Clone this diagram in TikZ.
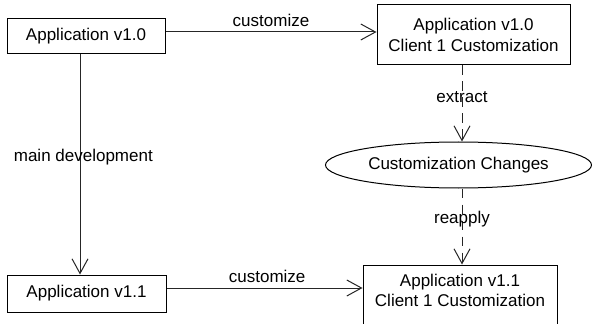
\documentclass[tikz,border=0pt]{standalone}
\usepackage{fontspec}
\setmainfont{Liberation Sans}
\usetikzlibrary{arrows.meta,shapes.geometric}
\begin{document}
\begin{tikzpicture}[x=0.75pt,y=-0.75pt,
  every node/.style={font=\fontsize{12.75}{15.5}\selectfont},
  box/.style={draw=black,line width=0.75pt,rectangle,inner sep=0pt,align=center},
  oval/.style={draw=black,line width=0.75pt,ellipse,inner sep=0pt},
  conn/.style={draw=black!85,line width=0.75pt,-{Straight Barb[length=11pt,width=12pt,line width=0.75pt]}},
  dconn/.style={conn,dash pattern=on 7pt off 5pt},
  lbl/.style={inner sep=0pt}]
\useasboundingbox (0,0) rectangle (592,324);
\coordinate (xl) at (80,0);
\coordinate (xd) at (462,0);
\coordinate (yt) at (0,32);
\coordinate (yb) at (0,288);
\node[box,minimum width=118.5pt,minimum height=26.25pt] (a10) at (86,36.5) {Application v1.0};
\node[box,minimum width=144.75pt,minimum height=45pt] (b10) at (473.5,35) {Application v1.0\\Client 1 Customization};
\node[oval,minimum width=199.5pt,minimum height=34.5pt] (chg) at (458.5,165) {Customization Changes};
\node[box,minimum width=119.25pt,minimum height=27.75pt] (c11) at (86.5,293.5) {Application v1.1};
\node[box,minimum width=145.5pt,minimum height=52.5pt] (d11) at (460,300) {};
\node[lbl,align=center] (d11t) at (460,290.5) {Application v1.1\\Client 1 Customization};
\draw[conn] (a10.east |- yt) -- node[midway,above,inner sep=3.8pt] (l1) {customize} (b10.west |- yt);
\draw[conn] (c11.east |- yb) -- node[midway,above,inner sep=3.8pt,xshift=2pt] (l2) {customize} (d11.west |- yb);
\draw[conn] (xl |- a10.south) -- node[pos=0.465,lbl,xshift=2.5pt] (l3) {main development} (xl |- c11.north);
\draw[dconn] (xd |- b10.south) -- node[pos=0.42,lbl] (l4) {extract} (xd |- chg.north);
\draw[dconn] (xd |- chg.south) -- node[pos=0.40,lbl] (l5) {reapply} (xd |- d11.north);
\end{tikzpicture}
\end{document}
